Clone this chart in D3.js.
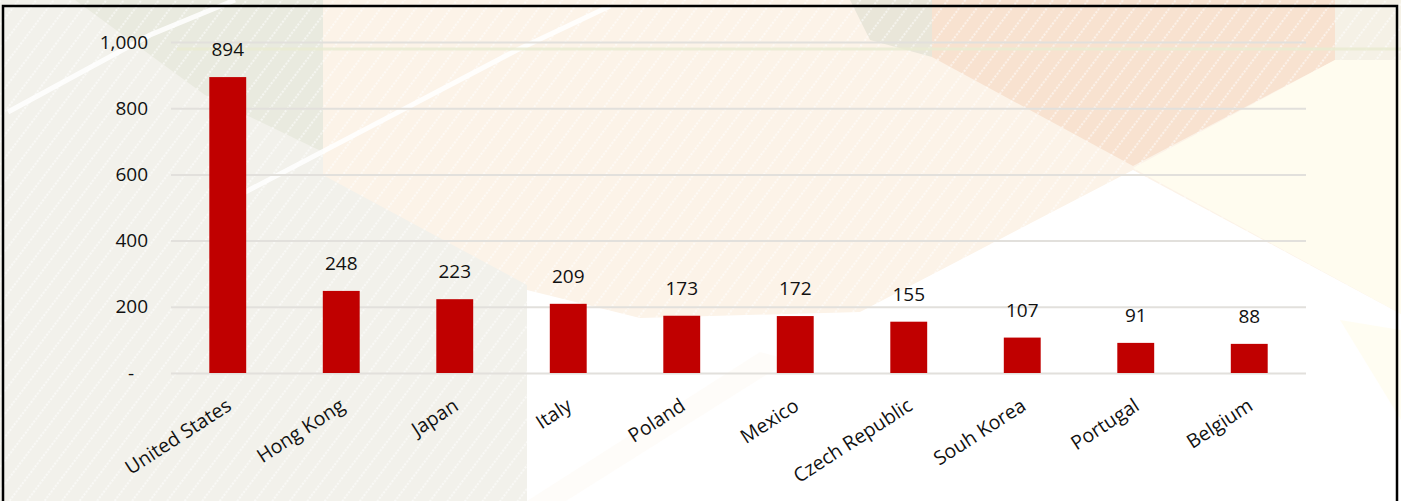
<!DOCTYPE html>
<html>
<head>
<meta charset="utf-8">
<script src="https://cdn.jsdelivr.net/npm/d3@7"></script>
<style>
  html, body { margin: 0; padding: 0; background: #fff; overflow: hidden; }
  svg { display: block; }
  .tick text { font-family: 'Open Sans', 'Noto Sans', sans-serif; fill: #111; }
</style>
</head>
<body>
<div id="chart"></div>
<script>
// chart values
const countries = ['United States', 'Hong Kong', 'Japan', 'Italy', 'Poland', 'Mexico',
                   'Czech Republic', 'Souh Korea', 'Portugal', 'Belgium'];
const values = [894, 248, 223, 209, 173, 172, 155, 107, 91, 88];
const yTicks = [0, 200, 400, 600, 800, 1000];

const width = 1401, height = 501;
const plot = { left: 171, right: 1306, top: 42, bottom: 373 };

const svg = d3.select('#chart').append('svg')
   .attr('width', width)
   .attr('height', height);

// ---- decorative background ----
const defs = svg.append('defs');
const stripes = defs.append('pattern')
   .attr('id', 'stripes')
   .attr('width', 14)
   .attr('height', 14)
   .attr('patternUnits', 'userSpaceOnUse')
   .attr('patternTransform', 'rotate(37)');
stripes.append('line')
   .attr('x1', 1).attr('y1', 0).attr('x2', 1).attr('y2', 14)
   .attr('stroke', '#fff')
   .attr('stroke-width', 1.6)
   .attr('stroke-dasharray', '2 1.5');

const bg = svg.append('g').attr('class', 'background');
const poly = (pts, fill, opacity = 1) => bg.append('polygon')
   .attr('points', pts.map(p => p.join(',')).join(' '))
   .attr('fill', fill)
   .attr('opacity', opacity);

bg.append('rect').attr('width', width).attr('height', height).attr('fill', '#fcf3e8');
poly([[0, 0], [323, 0], [323, 175], [527, 285], [527, 501], [0, 501]], '#f2f1eb');
poly([[75, 0], [323, 0], [323, 152], [205, 95]], '#e9eadf');
poly([[932, 0], [1335, 0], [1335, 60], [1133, 166], [932, 57]], '#f8e2d0');
poly([[850, 0], [932, 0], [932, 57], [870, 40]], '#e9e6d9');
poly([[1335, 0], [1401, 0], [1401, 60], [1335, 60]], '#f5f1e6');
bg.append('rect').attr('width', width).attr('height', height)
   .attr('fill', 'url(#stripes)').attr('opacity', 0.7);
poly([[1133, 168], [1335, 60], [1401, 60], [1401, 314]], '#fffcef');
poly([[1133, 170], [1401, 314], [1401, 501], [527, 501], [527, 290], [640, 318], [860, 312]], '#ffffff');
poly([[527, 501], [566, 501], [790, 360], [760, 352]], '#fdf6ef', 0.35);
poly([[1340, 320], [1401, 330], [1401, 420]], '#fffcef', 0.8);

// white streaks top left
[[[8, 112], [150, 35], [235, 0]], [[230, 200], [517, 50], [610, 6]]].forEach(pts => {
   bg.append('path')
      .attr('d', d3.line()(pts))
      .attr('fill', 'none')
      .attr('stroke', '#fff')
      .attr('stroke-width', 5)
      .attr('opacity', 0.85);
});
bg.append('line')
   .attr('x1', 177).attr('y1', 49).attr('x2', width).attr('y2', 49)
   .attr('stroke', '#e9ecd2')
   .attr('stroke-width', 3)
   .attr('opacity', 0.8);

// ---- scales ----
const x = d3.scaleBand()
   .domain(countries)
   .range([plot.left, plot.right])
   .paddingInner(0.675)
   .paddingOuter(0.3375);

const y = d3.scaleLinear()
   .domain([0, 1000])
   .range([plot.bottom, plot.top]);

// ---- y axis + gridlines ----
const yAxis = svg.append('g')
   .attr('transform', `translate(${plot.left},0)`)
   .call(d3.axisLeft(y)
      .tickValues(yTicks)
      .tickSize(-(plot.right - plot.left))
      .tickPadding(23)
      .tickFormat(d => d === 0 ? '-' : d3.format(',')(d)));

yAxis.select('.domain').remove();
yAxis.selectAll('.tick line')
   .attr('stroke', '#e2e0dc')
   .attr('stroke-width', 2);
yAxis.selectAll('.tick text')
   .attr('font-size', 19)
   .attr('dx', d => d === 0 ? -14 : 0);

// ---- bars ----
svg.append('g')
   .selectAll('rect')
   .data(values)
   .enter()
   .append('rect')
      .attr('x', (d, i) => x(countries[i]))
      .attr('y', d => y(d))
      .attr('width', x.bandwidth())
      .attr('height', d => y(0) - y(d))
      .attr('fill', '#c00000');

// value labels
svg.append('g')
   .selectAll('text')
   .data(values)
   .enter()
   .append('text')
      .attr('x', (d, i) => x(countries[i]) + x.bandwidth() / 2)
      .attr('y', d => y(d) - 21)
      .attr('text-anchor', 'middle')
      .attr('font-family', "'Open Sans', 'Noto Sans', sans-serif")
      .attr('font-size', 19)
      .attr('fill', '#111')
      .text(d => d);

// ---- x axis ----
const xAxis = svg.append('g')
   .attr('transform', `translate(0,${plot.bottom})`)
   .call(d3.axisBottom(x).tickSize(0));

xAxis.select('.domain').remove();
xAxis.selectAll('.tick text')
   .attr('font-size', 19.5)
   .attr('text-anchor', 'end')
   .attr('x', 5)
   .attr('y', 36)
   .attr('dy', 0)
   .attr('transform', 'rotate(-33, 5, 36)');

// ---- frame ----
svg.append('rect')
   .attr('x', 3)
   .attr('y', 6)
   .attr('width', 1394)
   .attr('height', 520)
   .attr('fill', 'none')
   .attr('stroke', '#000')
   .attr('stroke-width', 2.5);
</script>
</body>
</html>
